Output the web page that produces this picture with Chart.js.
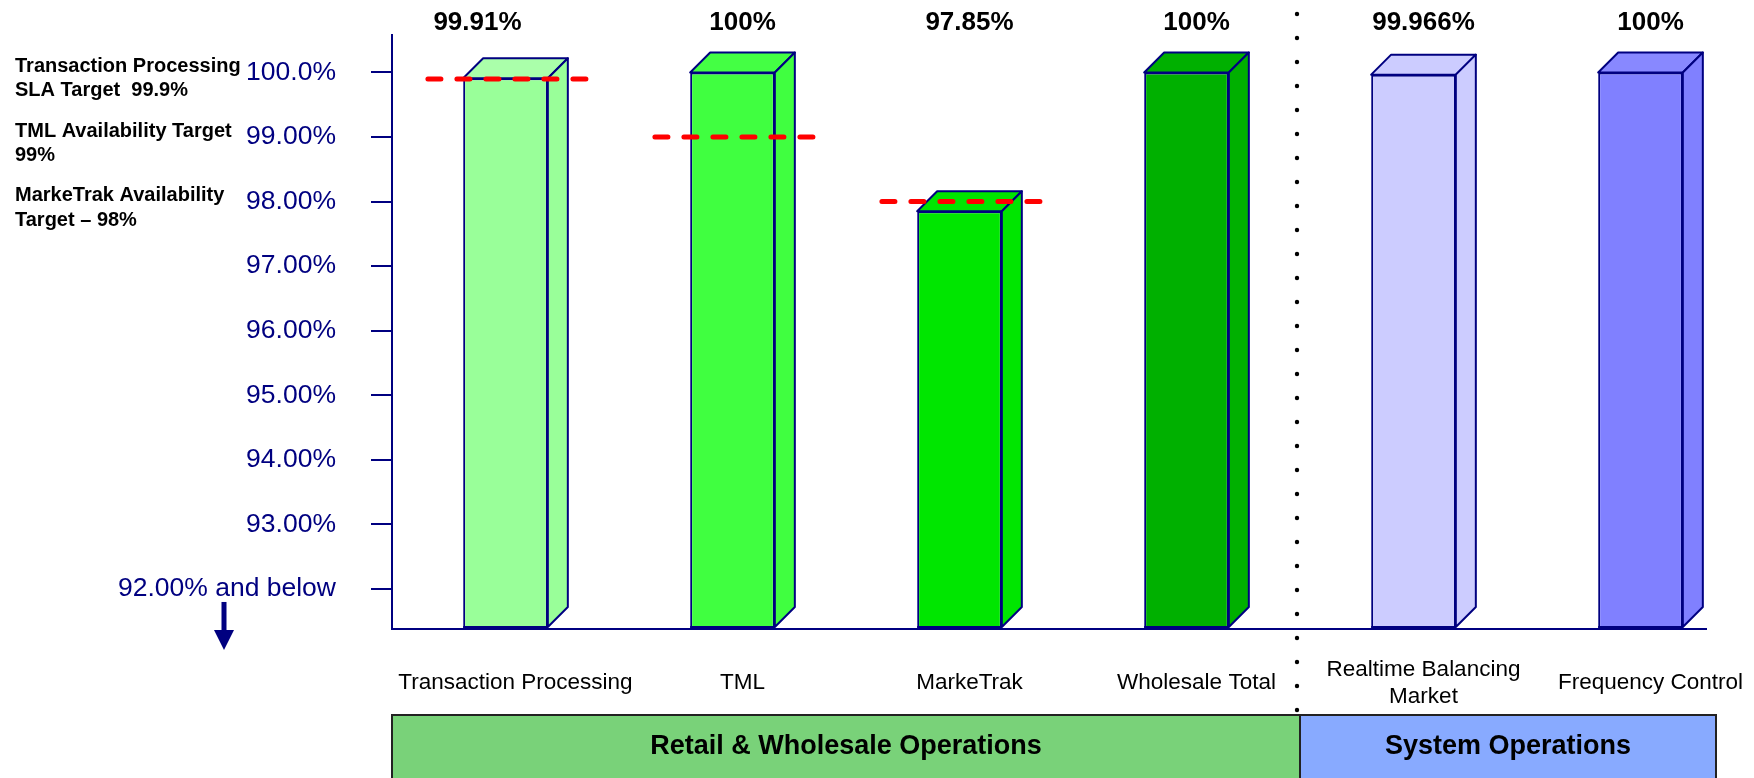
<!DOCTYPE html>
<html>
<head>
<meta charset="utf-8">
<script src="https://cdn.jsdelivr.net/npm/chart.js@4.4.1/dist/chart.umd.min.js"></script>
<style>
html, body { margin: 0; padding: 0; background: #fff; }
#wrap { width: 1754px; height: 778px; }
</style>
</head>
<body>
<div id="wrap"><canvas id="availChart"></canvas></div>
<script>
// data
const categories = [['Transaction Processing'], ['TML'], ['MarkeTrak'], ['Wholesale Total'], ['Realtime Balancing', 'Market'], ['Frequency Control']];
const availability = [99.91, 100, 97.85, 100, 99.966, 100];
const valueLabels = ['99.91%', '100%', '97.85%', '100%', '99.966%', '100%'];
const targets = [99.9, 99, 98, null, null, null];
const frontColors = ['#99ff99', '#40ff40', '#00e600', '#00b000', '#ccccff', '#8080ff'];
const topColors = ['#aaffaa', '#44ff44', '#00e600', '#00b000', '#ccccff', '#8888ff'];

const yTicks = [92, 93, 94, 95, 96, 97, 98, 99, 100];
const yTickLabels = ['92.00% and below', '93.00%', '94.00%', '95.00%', '96.00%', '97.00%', '98.00%', '99.00%', '100.0%'];

const targetNotes = [['Transaction Processing', 'SLA Target  99.9%'], ['TML Availability Target', '99%'], ['MarkeTrak Availability', 'Target \u2013 98%']];
const noteTicks = [100, 99, 98];

const groupNames = ['Retail & Wholesale Operations', 'System Operations'];
const groupColors = ['#79d279', '#88aaff'];

// the first value label sits a bit left of its bar on the slide
const labelNudge = [-38, 0, 0, 0, 0, 0];

const FONT = "'Liberation Sans', Arial, sans-serif";
const NAVY = '#000080';
const DEPTH = 20;

Chart.defaults.font.family = FONT;

// 3D faces, targets, labels and the group boxes
const slideDecor = {
  id: 'slideDecor',
  afterDatasetsDraw(chart) {
    const ctx = chart.ctx;
    const xs = chart.scales.x, ys = chart.scales.y;
    const area = chart.chartArea;
    const cat = xs.getPixelForValue(1) - xs.getPixelForValue(0);
    const bars = chart.getDatasetMeta(0).data;

    // top and side faces
    ctx.save();
    ctx.strokeStyle = NAVY;
    ctx.lineWidth = 2;
    ctx.lineJoin = 'round';
    bars.forEach((bar, i) => {
      const p = bar.getProps(['x', 'y', 'base', 'width'], true);
      const l = p.x - p.width / 2, r = p.x + p.width / 2, t = p.y;
      const b = Math.min(p.base, area.bottom) - 2;
      ctx.fillStyle = topColors[i];
      ctx.beginPath();
      ctx.moveTo(l, t); ctx.lineTo(l + DEPTH, t - DEPTH); ctx.lineTo(r + DEPTH, t - DEPTH); ctx.lineTo(r, t);
      ctx.closePath(); ctx.fill(); ctx.stroke();
      ctx.fillStyle = frontColors[i];
      ctx.beginPath();
      ctx.moveTo(r, t); ctx.lineTo(r + DEPTH, t - DEPTH); ctx.lineTo(r + DEPTH, b - DEPTH); ctx.lineTo(r, b);
      ctx.closePath(); ctx.fill(); ctx.stroke();
      // bottom edge of the front face
      ctx.beginPath();
      ctx.moveTo(l, b); ctx.lineTo(r, b);
      ctx.stroke();
    });
    ctx.restore();

    // x axis line
    ctx.save();
    ctx.strokeStyle = NAVY;
    ctx.lineWidth = 2;
    ctx.beginPath();
    ctx.moveTo(area.left, area.bottom);
    ctx.lineTo(area.right - 47, area.bottom);
    ctx.stroke();
    ctx.restore();

    // red dashed targets
    ctx.save();
    ctx.strokeStyle = '#ff0000';
    ctx.lineWidth = 5;
    ctx.lineCap = 'round';
    ctx.setLineDash([13, 16]);
    targets.forEach((t, i) => {
      if (t == null) return;
      const y = ys.getPixelForValue(t);
      const cx = xs.getPixelForValue(i) + 3;
      ctx.beginPath();
      ctx.moveTo(cx - cat * 0.355, y);
      ctx.lineTo(cx + cat * 0.355, y);
      ctx.stroke();
    });
    ctx.restore();

    // value labels on top
    ctx.save();
    ctx.fillStyle = '#000';
    ctx.font = 'bold 26px ' + FONT;
    ctx.textAlign = 'center';
    ctx.textBaseline = 'middle';
    valueLabels.forEach((s, i) => ctx.fillText(s, xs.getPixelForValue(i) + DEPTH / 2 + labelNudge[i], 23));
    ctx.restore();

    // category labels
    ctx.save();
    ctx.fillStyle = '#000';
    ctx.font = '22.5px ' + FONT;
    ctx.textAlign = 'center';
    ctx.textBaseline = 'middle';
    categories.forEach((lines, i) => {
      const cx = xs.getPixelForValue(i) + DEPTH / 2;
      const y0 = area.bottom + 54 - (lines.length - 1) * 13.5;
      lines.forEach((s, k) => ctx.fillText(s, cx, y0 + k * 27));
    });
    ctx.restore();

    // dotted divider between the two groups
    const divX = (xs.getPixelForValue(3) + xs.getPixelForValue(4)) / 2;
    ctx.save();
    ctx.fillStyle = '#000';
    for (let y = 14; y < 716; y += 24) {
      ctx.beginPath();
      ctx.arc(divX - 3, y, 2.2, 0, Math.PI * 2);
      ctx.fill();
    }
    ctx.restore();

    // group boxes
    const boxTop = area.bottom + 86;
    ctx.save();
    groupNames.forEach((name, g) => {
      const left = g === 0 ? area.left : divX;
      const right = g === groupNames.length - 1 ? area.right - 38 : divX;
      ctx.fillStyle = groupColors[g];
      ctx.fillRect(left, boxTop, right - left, 100);
      ctx.strokeStyle = '#222';
      ctx.lineWidth = 2;
      ctx.strokeRect(left, boxTop, right - left, 100);
      ctx.fillStyle = '#000';
      ctx.font = 'bold 27px ' + FONT;
      ctx.textAlign = 'center';
      ctx.textBaseline = 'middle';
      ctx.fillText(name, (left + right) / 2, boxTop + 32);
    });
    ctx.restore();

    // target notes at the left
    ctx.save();
    ctx.fillStyle = '#000';
    ctx.font = 'bold 20px ' + FONT;
    ctx.textAlign = 'left';
    ctx.textBaseline = 'middle';
    targetNotes.forEach((lines, i) => {
      const y0 = ys.getPixelForValue(noteTicks[i]) - 6;
      lines.forEach((s, k) => ctx.fillText(s, 15, y0 + k * 24.5));
    });
    ctx.restore();

    // "and below" arrow
    const ay = ys.getPixelForValue(92) + 13;
    ctx.save();
    ctx.fillStyle = NAVY;
    ctx.fillRect(221.5, ay, 5, 30);
    ctx.beginPath();
    ctx.moveTo(214, ay + 28);
    ctx.lineTo(234, ay + 28);
    ctx.lineTo(224, ay + 48);
    ctx.closePath();
    ctx.fill();
    ctx.restore();
  }
};

new Chart(document.getElementById('availChart'), {
  type: 'bar',
  data: {
    labels: categories,
    datasets: [{
      data: availability,
      backgroundColor: frontColors,
      borderColor: NAVY,
      borderWidth: 2,
      borderSkipped: false,
      barPercentage: 0.373,
      categoryPercentage: 1
    }]
  },
  options: {
    responsive: true,
    maintainAspectRatio: false,
    animation: false,
    layout: { padding: { top: 35, right: 0, left: 0, bottom: 0 } },
    plugins: { legend: { display: false }, tooltip: { enabled: false } },
    scales: {
      x: {
        afterFit: s => { s.height = 149; },
        ticks: { display: false },
        grid: { display: false },
        border: { display: false }
      },
      y: {
        min: 91.38,
        max: 100.58,
        afterBuildTicks: s => { s.ticks = yTicks.map(v => ({ value: v })); },
        afterFit: s => { s.width = 392; s.paddingTop = 0; s.paddingBottom = 0; },
        ticks: {
          color: NAVY,
          font: { size: 26.5 },
          padding: 35,
          callback: (v, i) => yTickLabels[i]
        },
        grid: { drawOnChartArea: false, tickLength: 21, color: NAVY, lineWidth: 2 },
        border: { color: NAVY, width: 2 }
      }
    }
  },
  plugins: [slideDecor]
});
</script>
</body>
</html>
